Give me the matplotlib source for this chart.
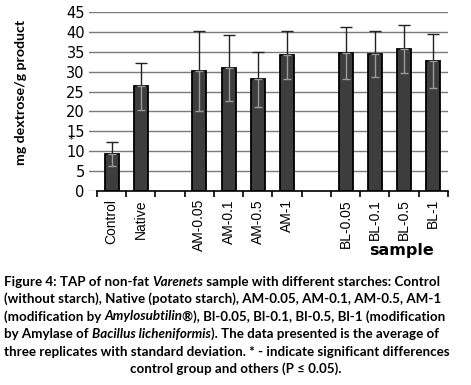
import matplotlib
matplotlib.use("Agg")
import matplotlib.pyplot as plt
import numpy as np

# bar data (mg dextrose / g product)
samples = ["Control", "Native", "", "AM-0.05", "AM-0.1", "AM-0.5", "AM-1",
           "", "BL-0.05", "BL-0.1", "BL-0.5", "BL-1"]
means = [9.3, 26.3, np.nan, 30.3, 31.0, 28.1, 34.3, np.nan, 34.8, 34.5, 35.8, 32.7]
sds = [3.1, 6.0, np.nan, 10.1, 8.4, 6.9, 6.1, np.nan, 6.6, 5.9, 6.0, 6.8]
yticks = list(range(0, 50, 5))

caption = [
    [("Figure 4: TAP of non-fat ", "normal"), ("Varenets", "italic"),
     (" sample with different starches: Control", "normal")],
    [("(without starch), Native (potato starch), AM-0.05, AM-0.1, AM-0.5, AM-1", "normal")],
    [("(modification by ", "normal"), ("Amylosubtilin", "italic"),
     ("\u00ae), Bl-0.05, Bl-0.1, Bl-0.5, Bl-1 (modification", "normal")],
    [("by Amylase of ", "normal"), ("Bacillus licheniformis", "italic"),
     ("). The data presented is the average of", "normal")],
    [("three replicates with standard deviation. * - indicate significant differences", "normal")],
    [("control group and others (P \u2264 0.05).", "normal")],
]

W, H = 471, 385
fig = plt.figure(figsize=(W / 100, H / 100), dpi=100)
ax = fig.add_axes([89 / W, 1 - 190.7 / H, (448 - 89) / W, (190.7 - 12.3) / H])

x = np.arange(len(samples))
m = np.array(means)
s = np.array(sds)
ok = ~np.isnan(m)

ax.bar(x[ok], m[ok], width=0.48, color="#3d3d3d", edgecolor="black",
       linewidth=1.3, zorder=3)
# upper half of error bar (black), lower half shows inside the bar (light)
ax.errorbar(x[ok], m[ok], yerr=[np.zeros(ok.sum()), s[ok]], fmt="none",
            ecolor="#222222", elinewidth=1.0, capsize=4, capthick=1.0, zorder=4)
ax.errorbar(x[ok], m[ok], yerr=[s[ok], np.zeros(ok.sum())], fmt="none",
            ecolor="#9a9a9a", elinewidth=1.0, capsize=3, capthick=1.0, zorder=4)

ax.set_xlim(-0.77, 11.5)
ax.set_ylim(0, 45)
ax.set_yticks(yticks)
ax.set_yticklabels([str(v) for v in yticks], fontsize=10.5, family="DejaVu Sans")
ax.yaxis.grid(True, color="#7a7a7a", linewidth=1.0, zorder=0)
ax.tick_params(axis="y", length=0, pad=3)

ax.set_xticks(x)
ax.set_xticklabels(samples, rotation=90, fontsize=10, family="Liberation Sans")
ax.set_xticks(np.arange(-0.5, 12, 1), minor=True)
ax.tick_params(axis="x", which="major", length=0, pad=6)
ax.tick_params(axis="x", which="minor", length=4, width=1.2, direction="out")

for side in ["top", "right", "left"]:
    ax.spines[side].set_visible(False)
ax.spines["bottom"].set_linewidth(1.2)
ax.spines["bottom"].set_bounds(-0.5, 11.5)

ax.set_ylabel("mg dextrose/g product", fontsize=10.2, family=["Lato", "DejaVu Sans"],
              fontweight="bold")
ax.yaxis.set_label_coords(-(89 - 27) / (448 - 89), 0.55)

fig.text(401 / W, 1 - 250.5 / H, "sample", fontsize=11.5, fontweight="bold",
         family="DejaVu Sans", ha="center", va="center")
fig.text(71 / W, 1 - 139.5 / H, "*", fontsize=7, ha="center", va="center")

# caption with mixed italic pieces
renderer = fig.canvas.get_renderer()
cap_fs = 9.6
fam = ["Lato", "DejaVu Sans"]
for i, line in enumerate(caption):
    base = 285.5 + i * 17.5
    widths = []
    arts = []
    for txt, style in line:
        t = fig.text(0, 1 - base / H, txt, fontsize=cap_fs, fontweight="bold",
                     style=style, family=fam, va="baseline", ha="left")
        widths.append(t.get_window_extent(renderer).width)
        arts.append(t)
    total = sum(widths)
    x0 = 4.0 if i < len(caption) - 1 else (W - total) / 2
    for t, w in zip(arts, widths):
        t.set_x(x0 / W)
        x0 += w

fig.savefig("out.png", dpi=100)
